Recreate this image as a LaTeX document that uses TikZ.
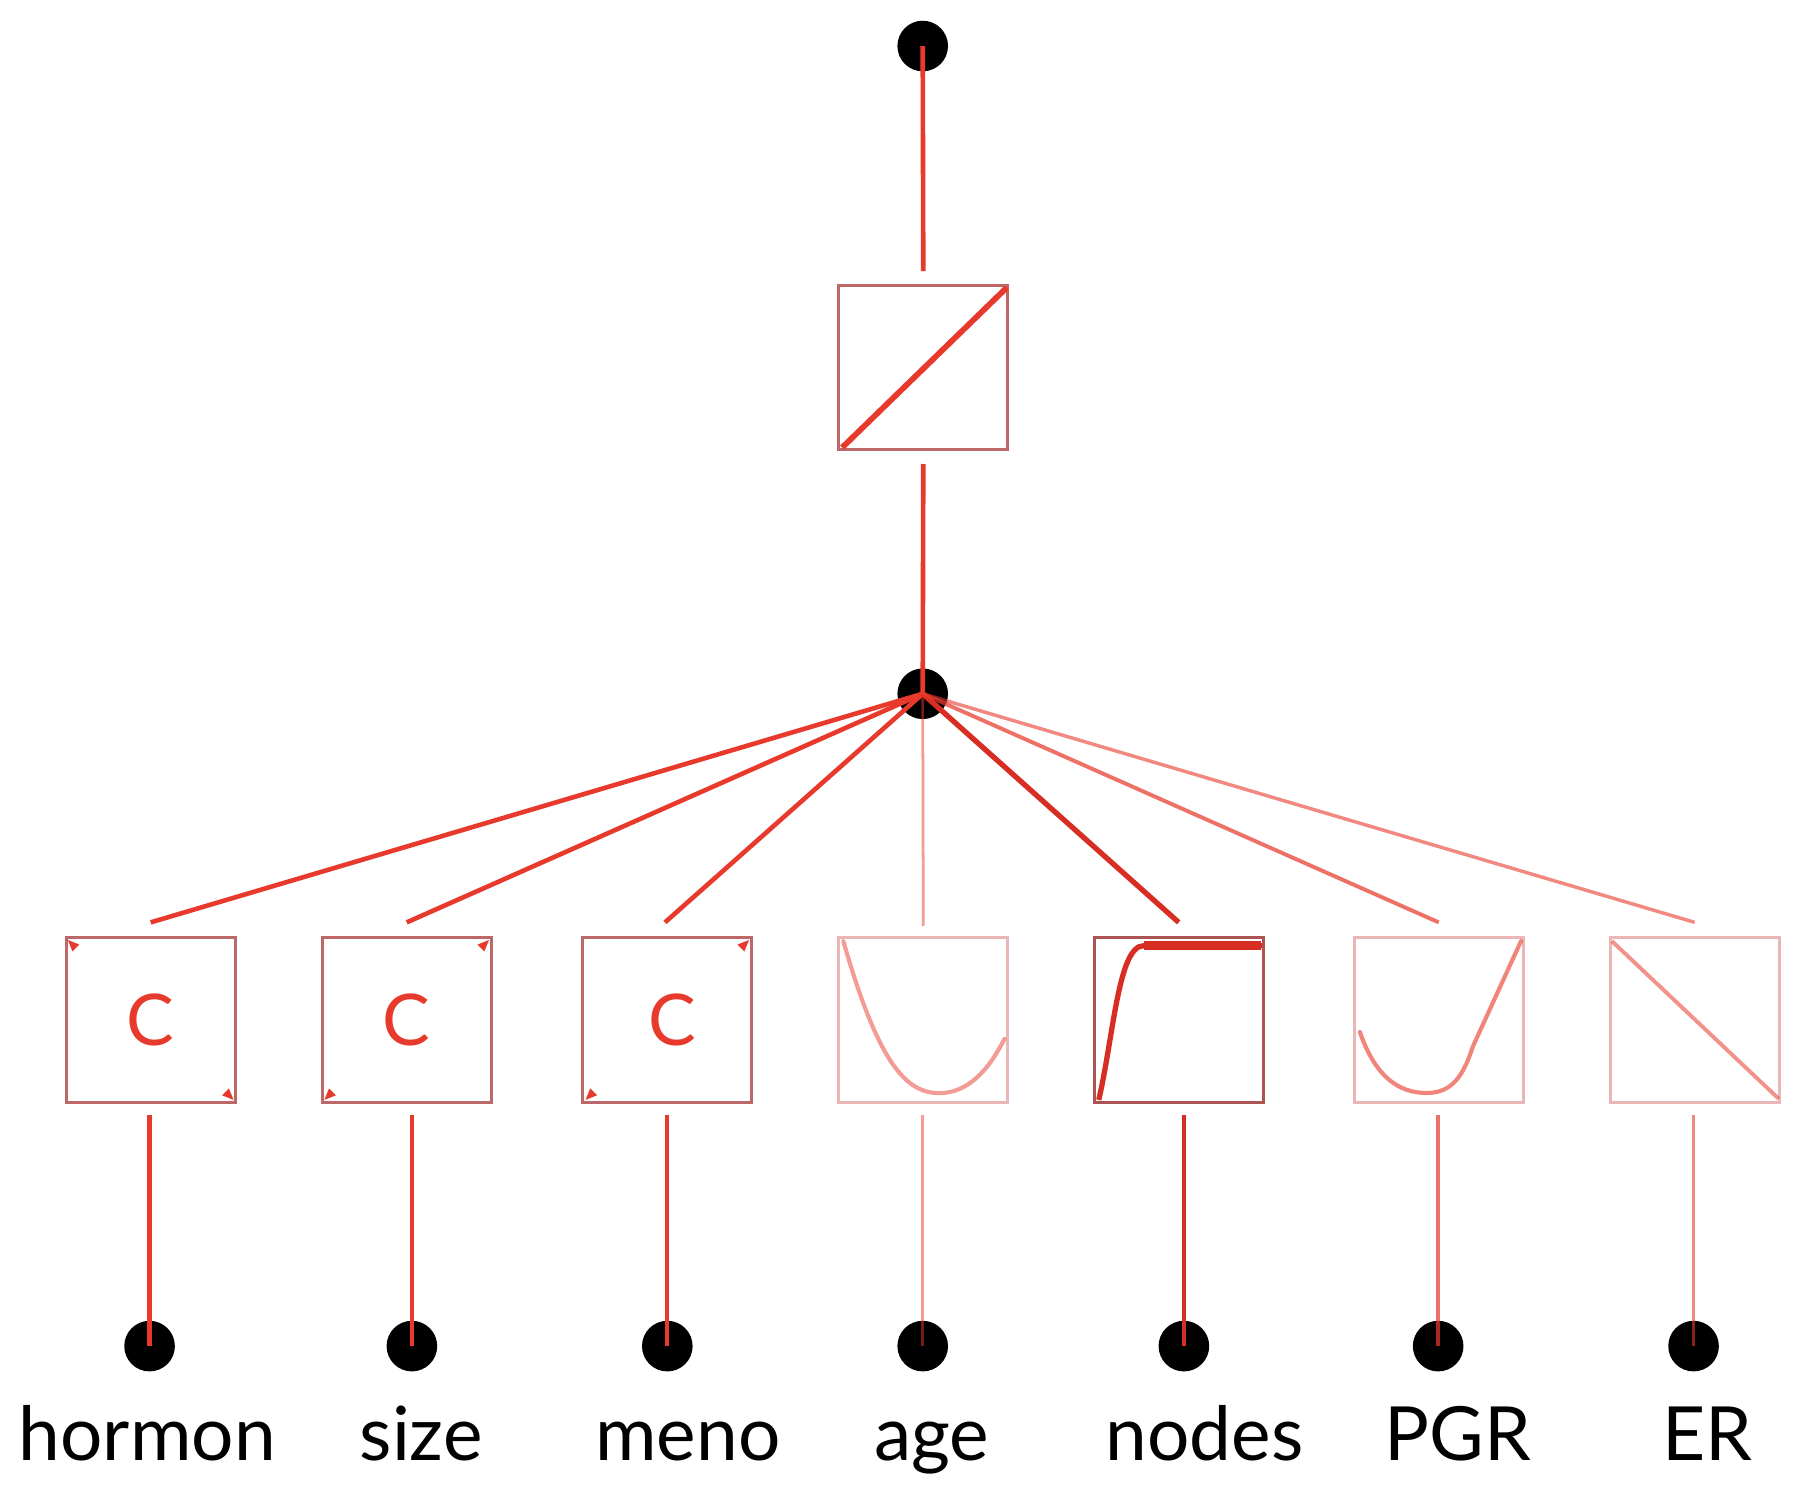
\documentclass[tikz,border=0pt]{standalone}
\usepackage{fontspec}
\setmainfont{Lato}
\definecolor{cred}{RGB}{232,58,44}
\definecolor{cdark}{RGB}{215,45,35}
\definecolor{bmid}{RGB}{188,104,104}
\definecolor{bdark}{RGB}{172,84,84}
\definecolor{blite}{RGB}{234,182,182}
\begin{document}
\begin{tikzpicture}[x=1pt,y=-1pt,
  dot/.style={circle,fill=black,inner sep=0pt,minimum size=44pt},
  fbox/.style={draw=#1,line width=2.6pt,minimum width=147pt,minimum height=143pt,inner sep=0pt,
     text=cred,font=\fontsize{62}{62}\selectfont},
  lbl/.style={anchor=base,inner sep=0pt,font=\fontsize{65}{70}\selectfont},
  strong/.style={draw=cred,line width=4pt},
  strongest/.style={draw=cdark,line width=4.6pt},
  medium/.style={draw=cred,draw opacity=0.72,line width=3.4pt},
  light/.style={draw=cred,draw opacity=0.6,line width=3pt},
  faint/.style={draw=cred,draw opacity=0.5,line width=2.4pt},
  curve/.style={line width=3.6pt,line cap=round}]
\useasboundingbox (0,0) rectangle (1568,1291.6);

% dots
\node[dot] (top) at (802,40) {};
\node[dot] (mid) at (802,603) {};
\node[dot] (d1) at (130,1170) {};
\node[dot] (d2) at (358,1170) {};
\node[dot] (d3) at (580,1170) {};
\node[dot] (d4) at (802,1170) {};
\node[dot] (d5) at (1029,1170) {};
\node[dot] (d6) at (1250,1170) {};
\node[dot] (d7) at (1472,1170) {};

% boxes
\node[fbox=bmid] (tb) at (802.5,319.5) {};
\node[fbox=bmid] (b1) at (131,886.5) {C};
\node[fbox=bmid] (b2) at (353.5,886.5) {C};
\node[fbox=bmid] (b3) at (580,886.5) {\hspace*{8pt}C};
\node[fbox=blite] (b4) at (802.5,886.5) {};
\node[fbox=bdark] (b5) at (1024.5,886.5) {};
\node[fbox=blite] (b6) at (1250.5,886.5) {};
\node[fbox=blite] (b7) at (1473,886.5) {};

% labels
\node[lbl] (l1) at (128,1269) {hormon};
\node[lbl] (l2) at (366,1269) {size};
\node[lbl] (l3) at (598,1269) {meno};
\node[lbl] (l4) at (810,1269) {age};
\node[lbl] (l5) at (1047,1269) {nodes};
\node[lbl] (l6) at (1267,1269) {PGR};
\node[lbl] (l7) at (1484,1269) {ER};

% top chain
\draw[strong] (top.center) -- ([yshift=11pt]tb.north);
\draw[strong] ([yshift=-11pt]tb.south) -- (mid.center);

% fan
\draw[strong] (mid.center) -- ([yshift=12pt]b1.north);
\draw[strong] (mid.center) -- ([yshift=12pt]b2.north);
\draw[strong] (mid.center) -- ([yshift=12pt,xshift=-2pt]b3.north);
\draw[faint] (mid.center) -- ([yshift=9pt]b4.north);
\draw[strongest] (mid.center) -- ([yshift=12pt]b5.north);
\draw[medium] (mid.center) -- ([yshift=12pt]b6.north);
\draw[light] (mid.center) -- ([yshift=12pt]b7.north);

% box to input dots
\foreach \i in {1,...,7}{\coordinate (s\i) at (d\i.center |- b\i.south);}
\draw[strong,line width=3.6pt] ([yshift=-10pt]s1) -- (d1.center);
\draw[strong,line width=3.6pt] ([yshift=-10pt]s2) -- (d2.center);
\draw[strong,line width=3.6pt] ([yshift=-10pt]s3) -- (d3.center);
\draw[faint] ([yshift=-10pt]s4) -- (d4.center);
\draw[strongest,line width=4pt] ([yshift=-10pt]s5) -- (d5.center);
\draw[medium,line width=3pt] ([yshift=-10pt]s6) -- (d6.center);
\draw[light,line width=2.6pt] ([yshift=-10pt]s7) -- (d7.center);

% box glyphs
\draw[cred,line width=5pt] (732,389) -- (875,250);
\draw[cred,curve,opacity=0.5] (733,818) .. controls (765,930) and (790,952) .. (820,950)
   .. controls (845,948) and (862,925) .. (873,903);
\draw[cdark,line width=4.6pt] (955,956) .. controls (968,900) and (972,822) .. (994,822) -- (1097,822);
\draw[cdark,line width=8pt] (994,822) -- (1096,822);
\draw[cred,curve,opacity=0.62] (1182,897) .. controls (1195,935) and (1215,950) .. (1240,950)
   .. controls (1262,950) and (1272,935) .. (1280,910) -- (1322,818);
\draw[cred,line width=3.4pt,opacity=0.55] (1401,818) -- (1546,955);

% corner ticks in C boxes
\newcommand\ctri[4]{\fill[cred] (#1,#2) -- ++({#3*10},{#4*4}) -- ++({#3*(-6)},{#4*6}) -- cycle;}
\ctri{59}{817}{1}{1}
\ctri{203}{956}{-1}{-1}
\ctri{425}{817}{-1}{1}
\ctri{282}{956}{1}{-1}
\ctri{651}{817}{-1}{1}
\ctri{509}{956}{1}{-1}
\end{tikzpicture}
\end{document}
